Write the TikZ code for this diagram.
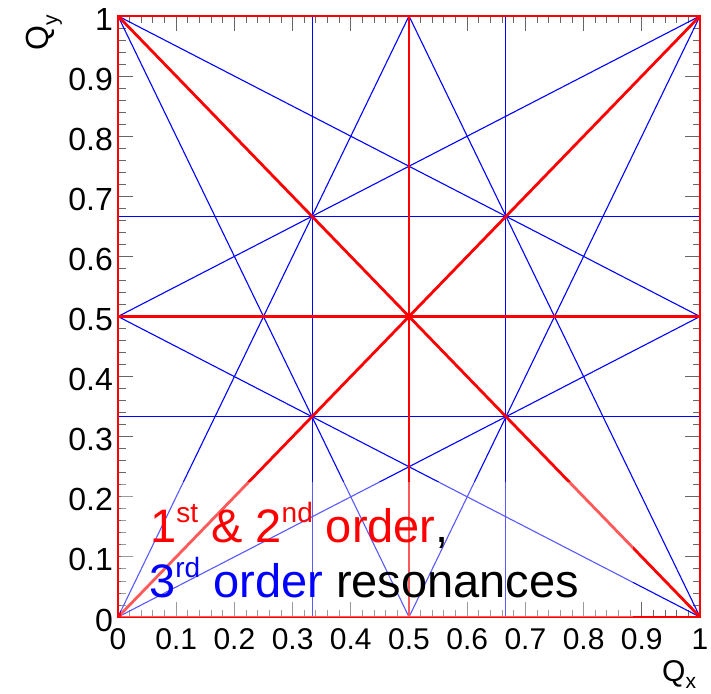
\documentclass[tikz,border=0pt]{standalone}
\usepackage{fontspec}
\setmainfont{Liberation Sans}
\begin{document}
\begin{tikzpicture}[x=1pt,y=-1pt,
  blueline/.style={blue, line width=1.1pt},
  redline/.style={red, line width=2.8pt},
  tickline/.style={black!60, line width=0.9pt},
  xlab/.style={font=\fontsize{30}{30}\selectfont, inner sep=0pt, anchor=center},
  ylab/.style={font=\fontsize{32}{32}\selectfont, inner sep=0pt, anchor=east},
  legtext/.style={font=\fontsize{47}{50}\selectfont, inner sep=0pt, anchor=base west}]
\useasboundingbox (0,0) rectangle (711,693);
\newcommand{\supx}[1]{\raisebox{0.41em}{\fontsize{28}{28}\selectfont #1}}
\begin{scope}[shift={(118,617)}, x={(582pt,0pt)}, y={(0pt,601pt)}]
  \coordinate (O) at (0,0);
  \coordinate (A) at (1,0);
  \coordinate (B) at (1,1);
  \coordinate (C) at (0,1);
  \coordinate (Mb) at (0.5,0);
  \coordinate (Mt) at (0.5,1);
  \coordinate (Ml) at (0,0.5);
  \coordinate (Mr) at (1,0.5);
  % ticks
  \foreach \i in {0,...,50} {
    \pgfmathsetmacro{\q}{\i/50}
    \pgfmathsetmacro{\L}{ifthenelse(mod(\i,5)==0,15,7.5)}
    \draw[tickline] (\q,0) -- ++(0pt,\L pt);
    \draw[tickline] (\q,1) -- ++(0pt,-\L pt);
    \draw[tickline] (0,\q) -- ++(\L pt,0pt);
    \draw[tickline] (1,\q) -- ++(-\L pt,0pt);
  }
  % third order
  \draw[blueline] (0.3335,0) -- (0.3335,1);
  \draw[blueline] (0.6665,0) -- (0.6665,1);
  \draw[blueline] (0,1/3) -- (1,1/3);
  \draw[blueline] (0,2/3) -- (1,2/3);
  \draw[blueline] (C) -- (Mb);
  \draw[blueline] (Mt) -- (A);
  \draw[blueline] (O) -- (Mt);
  \draw[blueline] (Mb) -- (B);
  \draw[blueline] (Ml) -- (A);
  \draw[blueline] (C) -- (Mr);
  \draw[blueline] (O) -- (Mr);
  \draw[blueline] (Ml) -- (B);
  % first and second order
  \draw[redline] (Mb) -- (Mt);
  \draw[redline] (Ml) -- (Mr);
  \draw[redline] (O) -- (B);
  \draw[redline] (C) -- (A);
  \draw[redline] (O) rectangle (B);
\end{scope}
% legend veil
\fill[white, opacity=0.35] (121,482) rectangle (633,617);
% legend text
\node[legtext] (l1) at (150,542) {\textcolor{red}{1\supx{st} \& 2\supx{nd} order},};
\node[legtext] (l2) at (149,597) {\textcolor{blue}{3\supx{rd} order} resonances};
% axis labels
\foreach \v in {0,0.1,0.2,0.3,0.4,0.5,0.6,0.7,0.8,0.9,1} {
  \node[xlab] at ({118+582*\v},639) {\v};
  \node[ylab] at (113,{620-601*\v}) {\v};
}
\node[font=\fontsize{32}{32}\selectfont, inner sep=0pt, anchor=base west, rotate=90] (qy) at (48,51) {Q\raisebox{-0.3em}{\fontsize{21}{21}\selectfont y}};
\node[font=\fontsize{30}{30}\selectfont, inner sep=0pt, anchor=base west] (qx) at (662,681) {Q\raisebox{-0.25em}{\fontsize{21}{21}\selectfont x}};
\end{tikzpicture}
\end{document}
